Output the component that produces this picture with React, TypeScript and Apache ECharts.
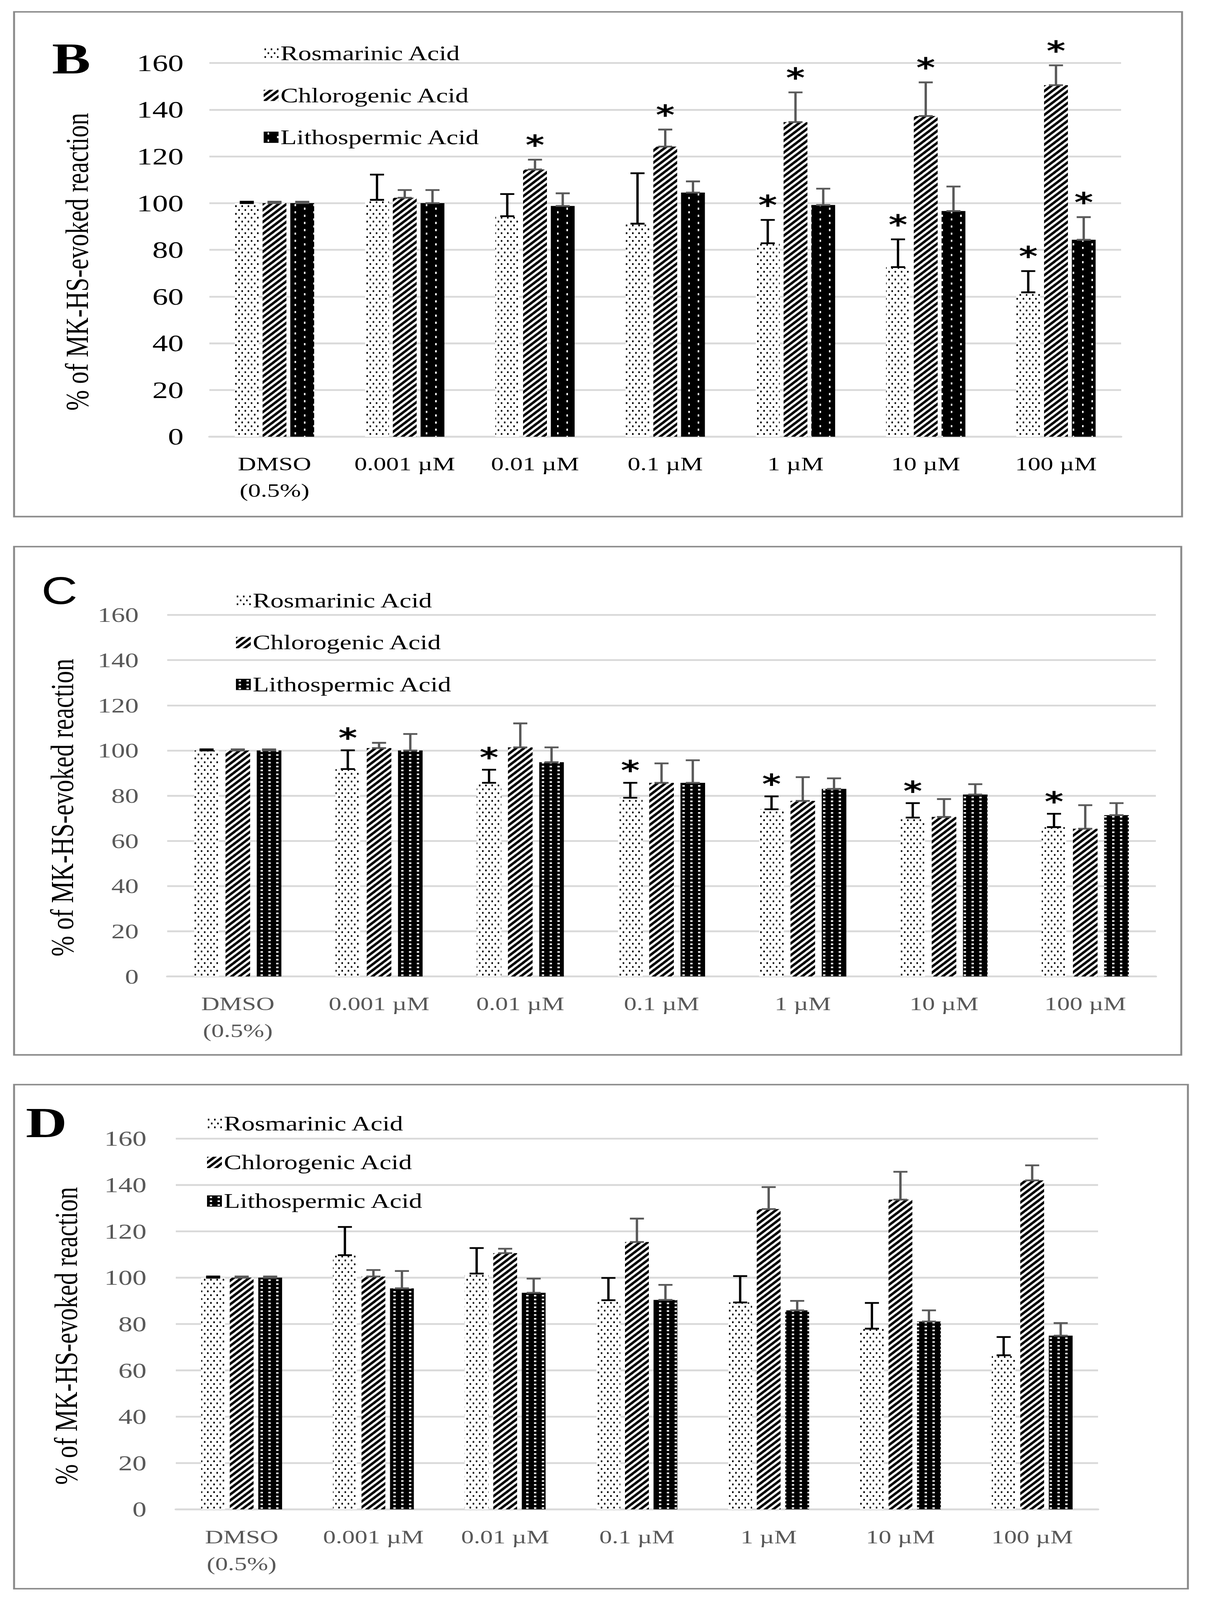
import React, { useEffect, useRef, useState } from "react";
import * as echarts from "echarts";

// ---------- data ----------
const categories = ["DMSO\n(0.5%)", "0.001 µM", "0.01 µM", "0.1 µM", "1 µM", "10 µM", "100 µM"];
const seriesNames = ["Rosmarinic Acid", "Chlorogenic Acid", "Lithospermic Acid"];
const yAxisTitle = "% of MK-HS-evoked reaction";
const yMin = 0;
const yMax = 160;
const yStep = 20;

// Panel B
const rosB = [100, 101.4, 94.4, 91.2, 82.8, 72.6, 61.8];
const rosBErr = [0.6, 10.8, 9.5, 21.6, 10.0, 11.9, 9.1];
const chlB = [100, 102.3, 114.4, 124.2, 134.7, 137.3, 150.5];
const chlBErr = [0.6, 3.3, 4.2, 7.3, 12.7, 14.4, 8.5];
const litB = [100, 100, 98.8, 104.5, 99.2, 96.6, 84.3];
const litBErr = [0.6, 5.6, 5.4, 4.8, 7.0, 10.5, 9.7];
const rosBStar = [0, 0, 0, 0, 1, 1, 1];
const chlBStar = [0, 0, 1, 1, 1, 1, 1];
const litBStar = [0, 0, 0, 0, 0, 0, 1];

// Panel C
const rosC = [100, 91.8, 85.7, 79.1, 74.0, 70.3, 66.1];
const rosCErr = [0.5, 8.3, 5.8, 6.6, 5.7, 6.4, 5.9];
const chlC = [100, 101.1, 101.4, 85.7, 77.7, 70.6, 65.4];
const chlCErr = [0.5, 2.3, 10.6, 8.6, 10.5, 7.9, 10.4];
const litC = [100, 100, 94.8, 85.7, 83.0, 80.5, 71.4];
const litCErr = [0.5, 7.3, 6.6, 10.0, 4.7, 4.6, 5.3];
const rosCStar = [0, 1, 1, 1, 1, 1, 1];
const chlCStar = [0, 0, 0, 0, 0, 0, 0];
const litCStar = [0, 0, 0, 0, 0, 0, 0];

// Panel D
const rosD = [100, 109.7, 101.8, 90.3, 89.3, 78.0, 66.5];
const rosDErr = [0.5, 12.2, 11.0, 9.6, 11.4, 11.1, 7.9];
const chlD = [100, 100.5, 110.6, 115.4, 129.6, 133.7, 142.0];
const chlDErr = [0.5, 2.8, 1.9, 10.1, 9.5, 12.0, 6.5];
const litD = [100, 95.4, 93.5, 90.4, 85.9, 81.1, 75.0];
const litDErr = [0.5, 7.5, 6.1, 6.5, 4.1, 4.8, 5.4];
const noStar = [0, 0, 0, 0, 0, 0, 0];

// ---------- style ----------
const PAGE_W = 3095;
const PAGE_H = 5386;
const SERIF = "'Liberation Serif', 'Times New Roman', serif";
const GRID_GRAY = "#d9d9d9";
const ERR_GRAY = "#595959";
const BORDER_GRAY = "#8a8a8a";

type Tile = { image: string; repeat: "repeat"; imageWidth: number; imageHeight: number };

function makeTile(w: number, h: number, draw: (ctx: CanvasRenderingContext2D) => void): Tile {
  const c = document.createElement("canvas");
  c.width = w;
  c.height = h;
  const ctx = c.getContext("2d")!;
  draw(ctx);
  return { image: c.toDataURL(), repeat: "repeat", imageWidth: w, imageHeight: h };
}

function buildPatterns() {
  const ros = makeTile(16, 26, (ctx) => {
    ctx.fillStyle = "#fff";
    ctx.fillRect(0, 0, 16, 26);
    ctx.fillStyle = "#000";
    ctx.fillRect(2, 2, 4, 6);
    ctx.fillRect(10, 15, 4, 6);
  });
  const chl = makeTile(20, 20, (ctx) => {
    ctx.fillStyle = "#fff";
    ctx.fillRect(0, 0, 20, 20);
    ctx.strokeStyle = "#000";
    ctx.lineWidth = 7.5;
    for (let k = -1; k <= 1; k++) {
      ctx.beginPath();
      ctx.moveTo(k * 20 - 2, 22);
      ctx.lineTo(k * 20 + 22, -2);
      ctx.stroke();
    }
  });
  const litB = makeTile(48, 24, (ctx) => {
    ctx.fillStyle = "#000";
    ctx.fillRect(0, 0, 48, 24);
    ctx.fillStyle = "#fff";
    ctx.fillRect(10, 3, 4, 7);
    ctx.fillRect(34, 15, 4, 7);
  });
  const litCD = makeTile(20, 13, (ctx) => {
    ctx.fillStyle = "#000";
    ctx.fillRect(0, 0, 20, 13);
    ctx.fillStyle = "#fff";
    ctx.fillRect(7, 4, 6, 5);
  });
  return { ros, chl, litB, litCD };
}

type Panel = {
  letter: string;
  letterFont: string;
  letterWeight: string;
  letterSize: number;
  letterX: number;
  letterY: number;
  border: { x: number; y: number; w: number; h: number };
  grid: { left: number; top: number; width: number; height: number };
  tickFont: number;
  tickColor: string;
  tickMargin: number;
  catColor: string;
  catMargin: number;
  nameGap: number;
  barW: number;
  gapPx: number;
  lit: "litB" | "litCD";
  legendLeft: number;
  legendTop: number;
  legendGap: number;
  starOff: number;
  values: number[][];
  errs: number[][];
  stars: number[][];
};

const panels: Panel[] = [
  {
    letter: "B", letterFont: SERIF, letterWeight: "bold", letterSize: 148, letterX: 133, letterY: 197,
    border: { x: 36, y: 40, w: 2990, h: 1699 },
    grid: { left: 536, top: 212, width: 2334, height: 1258 },
    tickFont: 80, tickColor: "#000", tickMargin: 66, catColor: "#000", catMargin: 46, nameGap: 298,
    barW: 61, gapPx: 10, lit: "litB",
    legendLeft: 670, legendTop: 140, legendGap: 71, starOff: 70,
    values: [rosB, chlB, litB], errs: [rosBErr, chlBErr, litBErr], stars: [rosBStar, chlBStar, litBStar],
  },
  {
    letter: "C", letterFont: "'Liberation Sans', sans-serif", letterWeight: "normal", letterSize: 128, letterX: 106, letterY: 1989,
    border: { x: 36, y: 1840, w: 2988, h: 1711 },
    grid: { left: 428, top: 2070, width: 2531, height: 1217 },
    tickFont: 70, tickColor: ERR_GRAY, tickMargin: 73, catColor: ERR_GRAY, catMargin: 47, nameGap: 228,
    barW: 63, gapPx: 17, lit: "litCD",
    legendLeft: 599, legendTop: 1982, legendGap: 71, starOff: 62,
    values: [rosC, chlC, litC], errs: [rosCErr, chlCErr, litCErr], stars: [rosCStar, chlCStar, litCStar],
  },
  {
    letter: "D", letterFont: SERIF, letterWeight: "bold", letterSize: 146, letterX: 66, letterY: 3778,
    border: { x: 36, y: 3651, w: 3005, h: 1697 },
    grid: { left: 450, top: 3833, width: 2361, height: 1248 },
    tickFont: 72, tickColor: ERR_GRAY, tickMargin: 75, catColor: ERR_GRAY, catMargin: 48, nameGap: 240,
    barW: 61, gapPx: 12, lit: "litCD",
    legendLeft: 525, legendTop: 3743, legendGap: 60, starOff: 62,
    values: [rosD, chlD, litD], errs: [rosDErr, chlDErr, litDErr], stars: [noStar, noStar, noStar],
  },
];

function buildOption() {
  const pat = buildPatterns();
  const series: any[] = [];
  const legends: any[] = [];
  const graphic: any[] = [];

  panels.forEach((p, pi) => {
    const fills = [pat.ros, pat.chl, pat[p.lit]];
    const gapPct = `${((p.gapPx / p.barW) * 100).toFixed(1)}%`;
    seriesNames.forEach((name, si) => {
      series.push({
        type: "bar",
        name,
        xAxisIndex: pi,
        yAxisIndex: pi,
        barWidth: p.barW,
        barGap: gapPct,
        itemStyle: { color: fills[si] },
        emphasis: { disabled: true },
        data: p.values[si],
      });
    });
    seriesNames.forEach((name, si) => {
      const off = (si - 1) * (p.barW + p.gapPx);
      const col = si === 0 ? "#000" : ERR_GRAY;
      const rows = p.values[si].map((v, ci) => [ci, v, p.errs[si][ci], p.stars[si][ci]]);
      series.push({
        type: "custom",
        name: name + " error",
        xAxisIndex: pi,
        yAxisIndex: pi,
        z: 5,
        silent: true,
        data: rows,
        renderItem: (_params: any, api: any) => {
          const ci = api.value(0);
          const v = api.value(1);
          const e = api.value(2);
          const st = api.value(3);
          const p0 = api.coord([ci, v]);
          const p1 = api.coord([ci, v + e]);
          const x = p0[0] + off;
          const ls = { stroke: col, lineWidth: 6 };
          const children: any[] = [
            { type: "line", shape: { x1: x, y1: p0[1], x2: x, y2: p1[1] }, style: ls },
            { type: "line", shape: { x1: x - 18, y1: p1[1], x2: x + 18, y2: p1[1] }, style: ls },
            { type: "line", shape: { x1: x - 18, y1: p0[1], x2: x + 18, y2: p0[1] }, style: ls },
          ];
          if (st) {
            children.push({
              type: "text",
              x,
              y: p1[1] - p.starOff + 20,
              style: {
                text: "*",
                fill: "#000",
                fontSize: 92,
                fontWeight: "bold",
                fontFamily: "'DejaVu Sans', sans-serif",
                align: "center",
                verticalAlign: "middle",
              },
            });
          }
          return { type: "group", children };
        },
      });
    });

    legends.push({
      orient: "vertical",
      left: p.legendLeft,
      top: p.legendTop,
      itemWidth: 38,
      itemHeight: 38,
      itemGap: p.legendGap,
      icon: "rect",
      selectedMode: false,
      textStyle: { fontFamily: SERIF, fontSize: 68, lineHeight: 70, color: "#000" },
      data: seriesNames.map((n, si) => ({ name: n, itemStyle: { color: fills[si] } })),
    });

    graphic.push({
      type: "rect",
      shape: { x: p.border.x, y: p.border.y, width: p.border.w, height: p.border.h },
      style: { fill: "none", stroke: BORDER_GRAY, lineWidth: 5 },
      silent: true,
    });
    graphic.push({
      type: "text",
      x: p.letterX,
      y: p.letterY,
      style: {
        text: p.letter,
        fill: "#000",
        fontSize: p.letterSize,
        fontWeight: p.letterWeight,
        fontFamily: p.letterFont,
        align: "left",
        verticalAlign: "middle",
      },
      silent: true,
    });
  });

  return {
    animation: false,
    backgroundColor: "#ffffff",
    grid: panels.map((p) => ({ ...p.grid })),
    xAxis: panels.map((p, i) => ({
      type: "category",
      gridIndex: i,
      data: categories,
      axisTick: { show: false },
      axisLine: { show: true, lineStyle: { color: GRID_GRAY, width: 6 } },
      axisLabel: {
        interval: 0,
        margin: p.catMargin,
        color: p.catColor,
        fontFamily: SERIF,
        fontSize: 65,
        lineHeight: 90,
      },
      splitLine: { show: false },
    })),
    yAxis: panels.map((p, i) => ({
      type: "value",
      gridIndex: i,
      min: yMin,
      max: yMax,
      interval: yStep,
      axisLine: { show: false },
      axisTick: { show: false },
      axisLabel: { margin: p.tickMargin, color: p.tickColor, fontFamily: SERIF, fontSize: p.tickFont },
      splitLine: { show: true, lineStyle: { color: GRID_GRAY, width: 6 } },
      name: yAxisTitle,
      nameLocation: "middle",
      nameGap: p.nameGap,
      nameTextStyle: { fontFamily: SERIF, fontSize: 83, color: "#000", padding: [0, 80, 0, 0] },
    })),
    legend: legends,
    graphic,
    series,
  };
}

export default function App() {
  const ref = useRef<HTMLDivElement>(null);
  // The browser window may be shorter than the requested page; fit the full
  // drawing into the visible height so that nothing is cut off.
  const [scaleY] = useState(() => {
    const h = typeof window !== "undefined" ? window.innerHeight : PAGE_H;
    return h > 0 && h < PAGE_H ? h / PAGE_H : 1;
  });
  useEffect(() => {
    if (!ref.current) return;
    const chart = echarts.init(ref.current, undefined, { renderer: "svg" });
    chart.setOption(buildOption() as any);
    return () => chart.dispose();
  }, []);
  return (
    <div
      style={{
        margin: -8,
        width: PAGE_W,
        height: Math.floor(PAGE_H * scaleY),
        overflow: "hidden",
        background: "#fff",
      }}
    >
      <div
        ref={ref}
        style={{
          width: PAGE_W,
          height: PAGE_H,
          background: "#fff",
          transform: `scale(1, ${scaleY})`,
          transformOrigin: "0 0",
        }}
      />
    </div>
  );
}
